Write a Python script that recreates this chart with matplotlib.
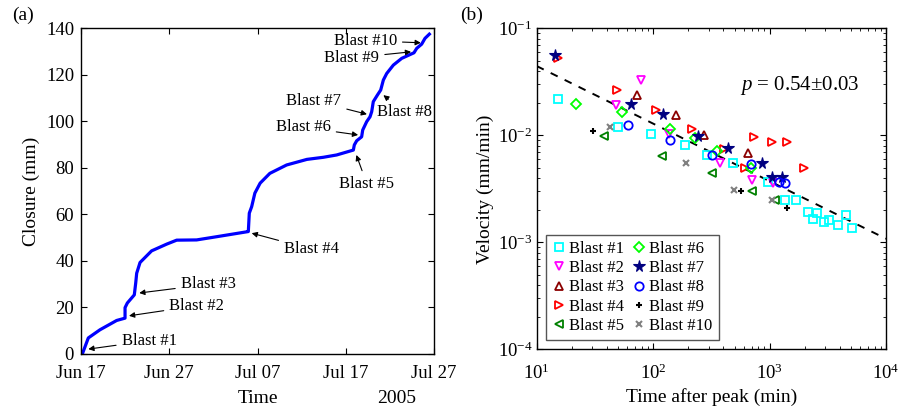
import datetime as dt
import numpy as np
import matplotlib
matplotlib.use("Agg")
import matplotlib.pyplot as plt
import matplotlib.dates as mdates
from matplotlib.ticker import LogLocator, NullFormatter

plt.rcParams['font.family'] = ['Liberation Serif', 'DejaVu Serif']
plt.rcParams['mathtext.fontset'] = 'custom'
plt.rcParams['mathtext.rm'] = 'Liberation Serif'
plt.rcParams['mathtext.it'] = 'Liberation Serif:italic'
plt.rcParams['axes.unicode_minus'] = True

# ---- panel (a): cumulative closure, days after 2005-06-17 00:00 ----
start_date = dt.datetime(2005, 6, 17)
closure_day = [0.15, 0.83, 2.15, 4.04, 4.99, 4.99, 5.25, 6.04, 6.2, 6.31, 6.69, 8.0,
               9.71, 10.84, 13.1, 15.4, 18.8, 18.96, 19.07, 19.34, 19.7, 20.3, 21.4,
               23.3, 25.6, 27.46, 28.97, 30.86, 30.97, 31.24, 31.8, 31.92, 32.37,
               32.75, 32.94, 33.12, 33.58, 33.96, 34.26, 34.64, 35.39, 36.34, 37.73,
               38.04, 38.6, 38.98, 39.47]
closure_mm = [0.0, 6.9, 10.4, 14.4, 15.4, 19.9, 21.9, 25.4, 30.5, 34.7, 39.3, 44.3,
              47.2, 48.9, 49.0, 50.4, 52.5, 52.6, 60.5, 63.3, 69.1, 73.4, 77.6,
              81.2, 83.6, 84.5, 85.5, 87.6, 89.8, 91.6, 93.3, 96.2, 99.8,
              101.9, 104.1, 108.4, 111.2, 113.4, 117.7, 120.5, 124.1, 127.0, 129.4,
              131.3, 133.1, 135.6, 137.4]

blast_labels = ["Blast #%d" % i for i in range(1, 11)]
blast_tip_day = [0.83, 5.44, 6.6, 19.34, 31.2, 31.4, 32.4, 34.26, 37.4, 38.5]
blast_tip_mm = [2.1, 16.4, 26.2, 51.9, 85.5, 94.1, 103.0, 111.2, 129.8, 133.7]
# text anchor (day, mm) and alignment for each label
label_pos = [(4.6, 5.7, 'left'), (10.0, 20.7, 'left'), (11.3, 29.9, 'left'),
             (23.0, 45.0, 'left'), (32.4, 73.0, 'center'), (28.3, 97.4, 'right'),
             (29.5, 108.8, 'right'), (33.5, 104.1, 'left'), (33.8, 127.2, 'right'),
             (35.8, 134.6, 'right')]

# ---- panel (b): velocity vs time after peak ----
t1 = [15.2, 49.9, 96, 188, 291, 488, 975, 1365, 1700, 2140, 2370, 2570, 2950, 3265, 3900, 4560, 5140]
v1 = [0.0218, 0.0120, 0.0103, 0.0081, 0.0065, 0.0055, 0.0037, 0.0025, 0.0025, 0.00192, 0.00166,
      0.00188, 0.00155, 0.00162, 0.00144, 0.00179, 0.00136]
t2 = [78.7, 48.2, 137, 377, 708, 1070]
v2 = [0.0329, 0.0191, 0.0104, 0.0055, 0.0038, 0.0036]
t3 = [72.8, 158, 275, 655]
v3 = [0.0239, 0.0155, 0.0101, 0.0069]
t4 = [15.2, 49, 106, 217, 407, 616, 730, 1050, 1410, 1990]
v4 = [0.0525, 0.0265, 0.0172, 0.0114, 0.0075, 0.0049, 0.0096, 0.0086, 0.0086, 0.0050]
t5 = [38, 118, 321, 708, 1120]
v5 = [0.0099, 0.0064, 0.0044, 0.0030, 0.0025]
t6 = [21.9, 53.9, 140, 229, 354, 690]
v6 = [0.0196, 0.0166, 0.0114, 0.0095, 0.0072, 0.0049]
t7 = [14.4, 64.6, 122, 243, 442, 861, 1050, 1290]
v7 = [0.0563, 0.0195, 0.0159, 0.0099, 0.0076, 0.0055, 0.0041, 0.0041]
t8 = [61, 140, 321, 690, 1200, 1365]
v8 = [0.0126, 0.0091, 0.0065, 0.0054, 0.0037, 0.0036]
t9 = [30.6, 572, 1400]
v9 = [0.0110, 0.0030, 0.0021]
t10 = [42.6, 192, 490, 1050]
v10 = [0.0120, 0.0055, 0.0031, 0.0025]

fit_t = [10, 1e4]
fit_v = [0.0444, 0.00108]

series_t = [t1, t2, t3, t4, t5, t6, t7, t8, t9, t10]
series_v = [v1, v2, v3, v4, v5, v6, v7, v8, v9, v10]
markers = ['s', 'v', '^', '>', '<', 'D', '*', 'o', '+', 'x']
colors = ['#00FFFF', '#FF00FF', '#8B0000', '#FF0000', '#008000', '#00FF00',
          '#000080', '#0000FF', '#000000', '#808080']

fig = plt.figure(figsize=(9.01, 4.12), dpi=100)
ax1 = fig.add_axes([0.0899, 0.1408, 0.3918, 0.791])
ax2 = fig.add_axes([0.5957, 0.1522, 0.3877, 0.779])

# panel (a)
x_dates = [start_date + dt.timedelta(days=d) for d in closure_day]
ax1.plot(x_dates, closure_mm, color='#0000FF', lw=2.3)
for lab, td, tm, (px, py, ha) in zip(blast_labels, blast_tip_day, blast_tip_mm, label_pos):
    ax1.annotate(lab, xy=(start_date + dt.timedelta(days=td), tm),
                 xytext=(start_date + dt.timedelta(days=px), py),
                 ha=ha, va='center', fontsize=12,
                 arrowprops=dict(arrowstyle='-|>', color='k', lw=0.8,
                                 mutation_scale=8, shrinkA=2, shrinkB=0))
ax1.set_xlim(start_date, start_date + dt.timedelta(days=40))
ax1.set_ylim(0, 140)
ax1.xaxis.set_major_locator(mdates.DayLocator(bymonthday=[7, 17, 27]))
ax1.xaxis.set_major_formatter(mdates.DateFormatter('%b %d'))
ax1.set_yticks(np.arange(0, 141, 20))
ax1.set_xlabel('Time', fontsize=14, labelpad=6)
ax1.set_ylabel('Closure (mm)', fontsize=14, labelpad=4)
ax1.tick_params(direction='in', top=True, right=True, labelsize=13.5, length=4)
ax1.tick_params(axis='x', pad=8)
ax1.tick_params(axis='y', pad=5)

# panel (b)
ax2.plot(fit_t, fit_v, 'k--', lw=1.4, dashes=(4, 4))
for i in range(10):
    m = markers[i]
    if m in ('+', 'x'):
        ax2.plot(series_t[i], series_v[i], ls='none', marker=m, color=colors[i],
                 ms=5, mew=1.5, label=blast_labels[i])
    elif m == '*':
        ax2.plot(series_t[i], series_v[i], ls='none', marker=m, color=colors[i],
                 ms=8.5, mew=0.8, label=blast_labels[i])
    else:
        ax2.plot(series_t[i], series_v[i], ls='none', marker=m, mfc='none',
                 mec=colors[i], ms=6 if m != 'D' else 5, mew=1.3, label=blast_labels[i])
ax2.set_xscale('log')
ax2.set_yscale('log')
ax2.set_xlim(10, 1e4)
ax2.set_ylim(1e-4, 1e-1)
ax2.xaxis.set_minor_locator(LogLocator(base=10, subs=np.arange(2, 10)))
ax2.yaxis.set_minor_locator(LogLocator(base=10, subs=np.arange(2, 10)))
ax2.xaxis.set_minor_formatter(NullFormatter())
ax2.yaxis.set_minor_formatter(NullFormatter())
ax2.set_xlabel('Time after peak (min)', fontsize=14, labelpad=4)
ax2.set_ylabel('Velocity (mm/min)', fontsize=14, labelpad=3)
ax2.tick_params(which='both', direction='in', top=True, right=True, labelsize=13.5)
ax2.tick_params(axis='x', which='major', pad=10)
ax2.tick_params(axis='y', which='major', pad=3)
ax2.tick_params(which='major', length=4)
ax2.tick_params(which='minor', length=2)
ax2.text(0.754, 0.823, '$p$ = 0.54\u00b10.03', transform=ax2.transAxes,
         ha='center', va='center', fontsize=15)
leg = ax2.legend(ncol=2, loc='lower left', bbox_to_anchor=(0.027, 0.029),
                 borderaxespad=0, fontsize=12, handlelength=0.8, handletextpad=0.25,
                 columnspacing=0.45, labelspacing=0.2, borderpad=0.35,
                 fancybox=False, framealpha=1, edgecolor='#555555')
leg.get_frame().set_linewidth(1.0)

for ax in (ax1, ax2):
    for s in ax.spines.values():
        s.set_linewidth(1.0)

# year label on the same line as the x-axis label
fig.canvas.draw()
ybox = ax1.xaxis.label.get_window_extent()
ycen = 0.5 * (ybox.y0 + ybox.y1) / fig.bbox.height
fig.text(ax1.get_position().x0 + 0.895 * ax1.get_position().width, ycen, '2005',
         ha='center', va='center', fontsize=14)

fig.text(0.013, 0.962, '(a)', fontsize=14, va='center')
fig.text(0.511, 0.962, '(b)', fontsize=14, va='center')

fig.savefig('out.png', dpi=100)
